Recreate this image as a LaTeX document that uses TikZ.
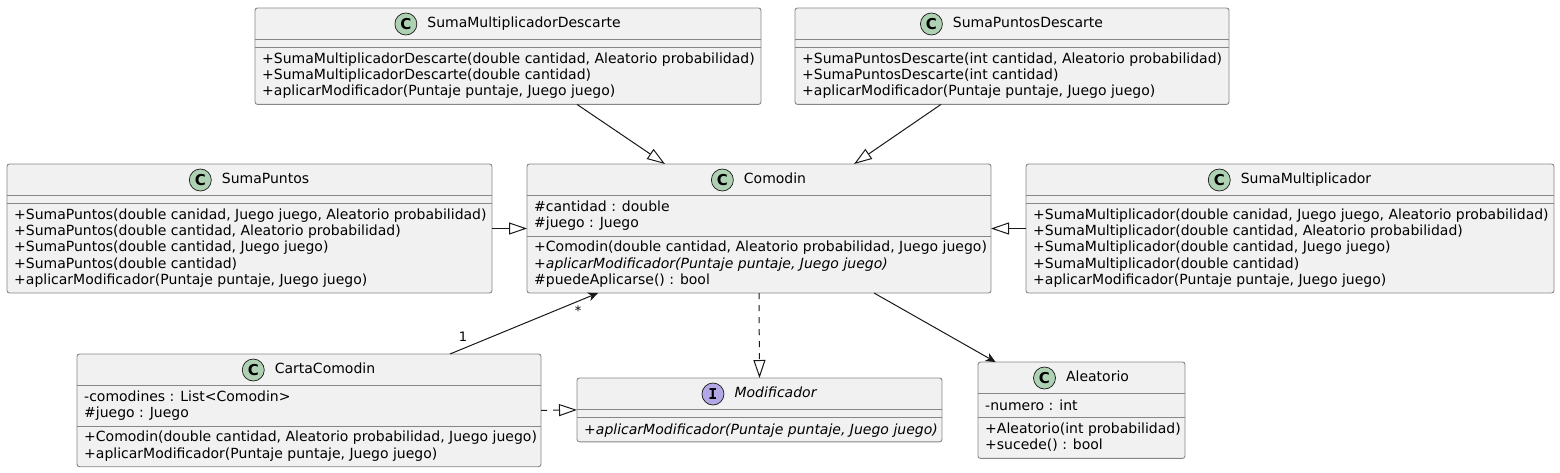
\documentclass[tikz,border=0pt]{standalone}
\usepackage{fontspec}
\setmainfont{DejaVu Sans}
\newfontfamily\iconfont{DejaVu Sans Mono}
\usepackage{tikz}
\usetikzlibrary{positioning,arrows.meta}

\definecolor{clsfill}{HTML}{F1F1F1}
\definecolor{clsline}{HTML}{181818}
\definecolor{clsborder}{HTML}{868686}
\definecolor{iconC}{HTML}{ADD1B2}
\definecolor{iconI}{HTML}{B4A7E5}

\begin{document}
\begin{tikzpicture}[x=1pt,y=-1pt,
  every node/.style={font=\fontsize{14}{16.3}\selectfont},
  cls/.style={draw=clsborder, line width=0.9pt, fill=clsfill, rounded corners=2.5pt, anchor=north west, inner sep=0, outer sep=0},
  sepline/.style={draw=clsborder, line width=0.9pt},
  title/.style={inner sep=0, text height=10.5pt, text depth=3pt},
  cicon/.style={circle, draw=clsline, line width=0.7pt, fill=iconC, minimum size=22pt, inner sep=0, font=\fontsize{15}{15}\selectfont\bfseries},
  iicon/.style={cicon, fill=iconI, font=\fontsize{15}{15}\selectfont\iconfont\bfseries},
  members/.style={anchor=north west, align=left, inner sep=0, execute at begin node=\strut},
  conn/.style={draw=clsline, line width=1pt},
  ext/.style={conn, -{Triangle[open, length=18pt, width=12pt]}},
  impl/.style={ext, dash pattern=on 6pt off 6pt},
  assoc/.style={conn, -{Stealth[length=10pt, width=9pt, inset=3pt]}},
  mult/.style={font=\fontsize{13}{13}\selectfont, inner sep=0, anchor=base}]
\useasboundingbox (0,0) rectangle (1560,472);

% class boxes
\node[cls, minimum width=506, minimum height=96.4] (SMD) at (255,8) {};
\node[cls, minimum width=434, minimum height=96.4] (SPD) at (795,8) {};
\node[cls, minimum width=485, minimum height=129] (SumaPuntos) at (7,164) {};
\node[cls, minimum width=464, minimum height=129] (Comodin) at (527,164) {};
\node[cls, minimum width=528, minimum height=129] (SumaMult) at (1026,164) {};
\node[cls, minimum width=464, minimum height=112.7] (CartaComodin) at (77,354) {};
\node[cls, minimum width=365, minimum height=63.8] (Modificador) at (577,378) {};
\node[cls, minimum width=207, minimum height=96.4] (Aleatorio) at (978,362) {};

% compartments
\draw[sepline] (255,39.5) -- (761,39.5) (255,47.5) -- (761,47.5);
\draw[sepline] (795,39.5) -- (1229,39.5) (795,47.5) -- (1229,47.5);
\draw[sepline] (7,195.5) -- (492,195.5) (7,203.5) -- (492,203.5);
\draw[sepline] (527,195.5) -- (991,195.5) (527,236.1) -- (991,236.1);
\draw[sepline] (1026,195.5) -- (1554,195.5) (1026,203.5) -- (1554,203.5);
\draw[sepline] (77,385.5) -- (541,385.5) (77,426.1) -- (541,426.1);
\draw[sepline] (577,409.5) -- (942,409.5) (577,417.5) -- (942,417.5);
\draw[sepline] (978,393.5) -- (1185,393.5) (978,417.8) -- (1185,417.8);

% headers
\node[title] (SMD-t) at (524,24) {SumaMultiplicadorDescarte};
\node[cicon, left=10pt of SMD-t] (SMD-c) {C};
\node[title] (SPD-t) at (1028,24) {SumaPuntosDescarte};
\node[cicon, left=10pt of SPD-t] (SPD-c) {C};
\node[title] (SumaPuntos-t) at (265.5,180) {SumaPuntos};
\node[cicon, left=10pt of SumaPuntos-t] (SumaPuntos-c) {C};
\node[title] (Comodin-t) at (775,180) {Comodin};
\node[cicon, left=10pt of Comodin-t] (Comodin-c) {C};
\node[title] (SumaMult-t) at (1306,180) {SumaMultiplicador};
\node[cicon, left=10pt of SumaMult-t] (SumaMult-c) {C};
\node[title] (CartaComodin-t) at (325,370) {CartaComodin};
\node[cicon, left=10pt of CartaComodin-t] (CartaComodin-c) {C};
\node[title] (Modificador-t) at (775.5,394) {\itshape Modificador};
\node[iicon, left=10pt of Modificador-t] (Modificador-c) {I};
\node[title] (Aleatorio-t) at (1097.5,378) {Aleatorio};
\node[cicon, left=10pt of Aleatorio-t] (Aleatorio-c) {C};

% members
\node[members] (SMD-m) at (262,52.5) {+SumaMultiplicadorDescarte(double cantidad, Aleatorio probabilidad)\\+SumaMultiplicadorDescarte(double cantidad)\\+aplicarModificador(Puntaje puntaje, Juego juego)};
\node[members] (SPD-m) at (802,52.5) {+SumaPuntosDescarte(int cantidad, Aleatorio probabilidad)\\+SumaPuntosDescarte(int cantidad)\\+aplicarModificador(Puntaje puntaje, Juego juego)};
\node[members] (SumaPuntos-m) at (14,208.5) {+SumaPuntos(double canidad, Juego juego, Aleatorio probabilidad)\\+SumaPuntos(double cantidad, Aleatorio probabilidad)\\+SumaPuntos(double cantidad, Juego juego)\\+SumaPuntos(double cantidad)\\+aplicarModificador(Puntaje puntaje, Juego juego)};
\node[members] (Comodin-a) at (534,200.5) {\#cantidad : double\\\#juego : Juego};
\node[members] (Comodin-m) at (534,241.1) {+Comodin(double cantidad, Aleatorio probabilidad, Juego juego)\\\textit{+aplicarModificador(Puntaje puntaje, Juego juego)}\\\#puedeAplicarse() : bool};
\node[members] (SumaMult-m) at (1033,208.5) {+SumaMultiplicador(double canidad, Juego juego, Aleatorio probabilidad)\\+SumaMultiplicador(double cantidad, Aleatorio probabilidad)\\+SumaMultiplicador(double cantidad, Juego juego)\\+SumaMultiplicador(double cantidad)\\+aplicarModificador(Puntaje puntaje, Juego juego)};
\node[members] (CartaComodin-a) at (84,390.5) {-comodines : List<Comodin>\\\#juego : Juego};
\node[members] (CartaComodin-m) at (84,431.1) {+Comodin(double cantidad, Aleatorio probabilidad, Juego juego)\\+aplicarModificador(Puntaje puntaje, Juego juego)};
\node[members] (Modificador-m) at (584,422.5) {\textit{+aplicarModificador(Puntaje puntaje, Juego juego)}};
\node[members] (Aleatorio-a) at (985,398.5) {-numero : int};
\node[members] (Aleatorio-m) at (985,422.8) {+Aleatorio(int probabilidad)\\+sucede() : bool};

% relations
\draw[ext] ([xshift=69]SMD.south) -- ([xshift=-94]Comodin.north);
\draw[ext] ([xshift=-71]SPD.south) -- ([xshift=95]Comodin.north);
\draw[ext] (SumaPuntos.east) -- (Comodin.west);
\draw[ext] (SumaMult.west) -- (Comodin.east);
\draw[assoc] ([xshift=141]CartaComodin.north) -- ([xshift=-161]Comodin.south);
\node[mult] (mult-one) at (463,341.5) {1};
\node[mult] (mult-many) at (578,315) {*};
\draw[impl] (Comodin.south) -- (Modificador.north);
\draw[impl] (CartaComodin.east) -- (Modificador.west);
\draw[assoc] ([xshift=115]Comodin.south) -- ([xshift=-86]Aleatorio.north);

\end{tikzpicture}
\end{document}
